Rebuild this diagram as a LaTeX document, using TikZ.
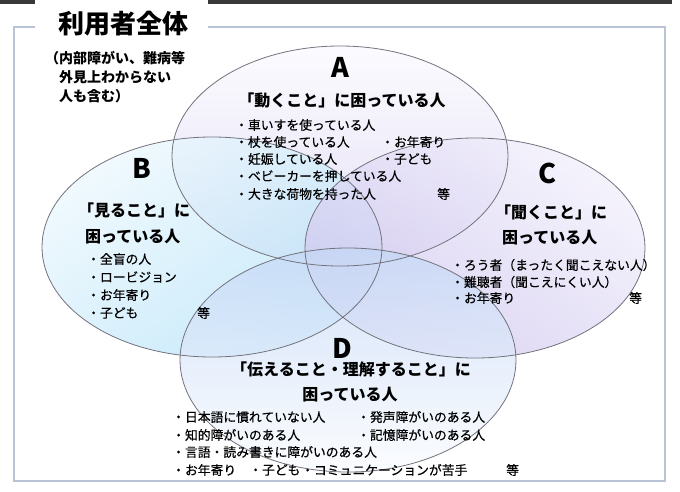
\documentclass[tikz,border=0pt]{standalone}
\usepackage{fontspec}
\newfontfamily\jp{Noto Sans CJK JP}
\newfontfamily\jpm[FakeBold=0.5]{Noto Sans CJK JP}
\definecolor{frameC}{RGB}{186,196,212}
\definecolor{edgeC}{RGB}{115,115,125}
\definecolor{aTop}{RGB}{250,250,255}
\definecolor{aBot}{RGB}{220,214,242}
\definecolor{bLight}{RGB}{236,248,254}
\definecolor{bDark}{RGB}{180,226,248}
\definecolor{cLight}{RGB}{242,240,252}
\definecolor{cDark}{RGB}{206,196,238}
\definecolor{dTop}{RGB}{196,216,246}
\definecolor{dBot}{RGB}{250,252,255}
\begin{document}
\begin{tikzpicture}[x=1pt,y=-1pt,
  vfill/.style={fill opacity=0.75},
  vedge/.style={draw=edgeC, line width=0.8pt},
  lst/.style={anchor=west, inner sep=0pt, font=\jpm\fontsize{12.8}{14}\selectfont},
  hd/.style={inner sep=0pt, font=\jp\bfseries\fontsize{16}{18}\selectfont},
  hdw/.style={hd, anchor=west},
  letter/.style={inner sep=0pt, font=\jp\bfseries\fontsize{27}{28}\selectfont},
  sub/.style={anchor=west, inner sep=0pt, font=\jp\bfseries\fontsize{14}{16}\selectfont}
]
\useasboundingbox (0,0) rectangle (680,491);
\fill[white] (0,0) rectangle (680,491);
% top bars
\fill[black!78] (0,0) rectangle (35,4);
\fill[black!78] (208,0) rectangle (672,4);
% frame
\draw[frameC, line width=1.6pt] (35,27) -- (14,27) -- (14,481) -- (665,481) -- (665,27) -- (208,27);
\node[inner sep=0pt, font=\jp\bfseries\fontsize{26}{28}\selectfont] (title) at (123,24) {利用者全体};
\node[sub] (s1) at (45,58) {（内部障がい、難病等};
\node[sub] (s2) at (59,77) {外見上わからない};
\node[sub] (s3) at (59,96) {人も含む）};
% ellipses fills
\path[vfill, top color=aTop, bottom color=aBot] (340,156) ellipse [x radius=168pt, y radius=110pt];
\path[vfill, top color=bLight, bottom color=bDark, shading angle=35] (212,247) ellipse [x radius=170pt, y radius=110pt];
\path[vfill, top color=cLight, bottom color=cDark, shading angle=-35] (475,248) ellipse [x radius=170pt, y radius=110pt];
\path[vfill, top color=dTop, bottom color=dBot] (348,360) ellipse [x radius=168pt, y radius=112pt];
% ellipse edges
\draw[vedge] (340,156) ellipse [x radius=168pt, y radius=110pt];
\draw[vedge] (212,247) ellipse [x radius=170pt, y radius=110pt];
\draw[vedge] (475,248) ellipse [x radius=170pt, y radius=110pt];
\draw[vedge] (348,360) ellipse [x radius=168pt, y radius=112pt];
% A
\node[letter] (A) at (340,67) {A};
\node[hd] (ah) at (342,100) {「動くこと」に困っている人};
\node[lst] (a1) at (235,125) {・車いすを使っている人};
\node[lst] (a2) at (235,142) {・杖を使っている人};
\node[lst] (a3) at (235,159) {・妊娠している人};
\node[lst] (a4) at (235,176) {・ベビーカーを押している人};
\node[lst] (a5) at (235,194) {・大きな荷物を持った人};
\node[lst] (a6) at (381,142) {・お年寄り};
\node[lst] (a7) at (381,159) {・子ども};
\node[lst] (a8) at (437,194) {等};
% B
\node[letter] (B) at (142,168) {B};
\node[hdw] (bh1) at (78,210) {「見ること」に};
\node[hdw] (bh2) at (85,237) {困っている人};
\node[lst] (b1) at (87,259) {・全盲の人};
\node[lst] (b2) at (87,277) {・ロービジョン};
\node[lst] (b3) at (87,295) {・お年寄り};
\node[lst] (b4) at (87,313) {・子ども};
\node[lst] (b5) at (197,313) {等};
% C
\node[letter] (C) at (547,173) {C};
\node[hdw] (ch1) at (495,212) {「聞くこと」に};
\node[hdw] (ch2) at (502,238) {困っている人};
\node[lst] (c1) at (451,265) {・ろう者（まったく聞こえない人）};
\node[lst] (c2) at (451,282) {・難聴者（聞こえにくい人）};
\node[lst] (c3) at (451,298) {・お年寄り};
\node[lst] (c4) at (629,298) {等};
% D
\node[letter] (D) at (342,348) {D};
\node[hd] (dh1) at (351,369) {「伝えること・理解すること」に};
\node[hd] (dh2) at (350,395) {困っている人};
\node[lst] (d1) at (172,417) {・日本語に慣れていない人};
\node[lst] (d2) at (357,417) {・発声障がいのある人};
\node[lst] (d3) at (172,435) {・知的障がいのある人};
\node[lst] (d4) at (357,435) {・記憶障がいのある人};
\node[lst] (d5) at (172,452) {・言語・読み書きに障がいのある人};
\node[lst] (d6) at (172,470) {・お年寄り};
\node[lst] (d7) at (249,470) {・子ども};
\node[lst] (d8) at (301,470) {・コミュニケーションが苦手};
\node[lst] (d9) at (506,470) {等};
\end{tikzpicture}
\end{document}
